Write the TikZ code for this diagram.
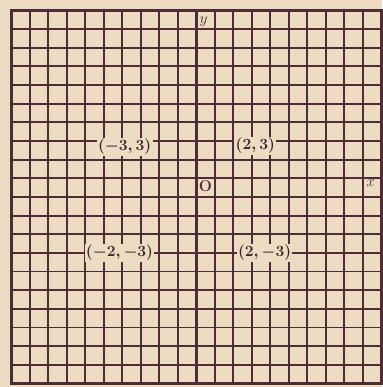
\documentclass[tikz,border=0pt]{standalone}
\usetikzlibrary{positioning}
\definecolor{paper}{HTML}{EDDCC2}
\definecolor{ink}{HTML}{4E2C38}
\begin{document}
\begin{tikzpicture}[x=5mm,y=5.04mm,gridline/.style={ink,line width=1.4pt},axis/.style={ink,line width=2.2pt},pt/.style={fill=paper,inner sep=1pt,font=\large\boldmath,text=ink!80!black},lbl/.style={inner sep=0pt,font=\large,text=ink}]
\fill[paper] (-10.6,-10.19) rectangle (10.05,10.56);
\useasboundingbox (-10.6,-10.19) rectangle (10.05,10.56);
% squared paper
\foreach \i in {-9,...,9} {\draw[gridline] (\i,-10)--(\i,10); \draw[gridline] (-10,\i)--(10,\i);}
\draw[axis] (-10,-10) rectangle (10,10);
\coordinate (xl) at (-10,0); \coordinate (xr) at (10,0);
\coordinate (yb) at (0,-10); \coordinate (yt) at (0,10);
\draw[axis] (xl)--(xr); \draw[axis] (yb)--(yt);
\node[lbl] (ylab) at (0.4,9.38) {$y$};
\node[lbl] (xlab) at (9.43,0.75) {$x$};
\node[lbl,font=\large\bfseries] (orig) at (0.51,0.59) {O};
% the four points
\node[pt] (p1) at (-3.86,2.68) {$(-3,3)$};
\node[pt] (p2) at (3.2,2.73) {$(2,3)$};
\node[pt] (p3) at (-4.14,-3.0) {$(-2,-3)$};
\node[pt] (p4) at (3.7,-3.0) {$(2,-3)$};
\end{tikzpicture}
\end{document}
